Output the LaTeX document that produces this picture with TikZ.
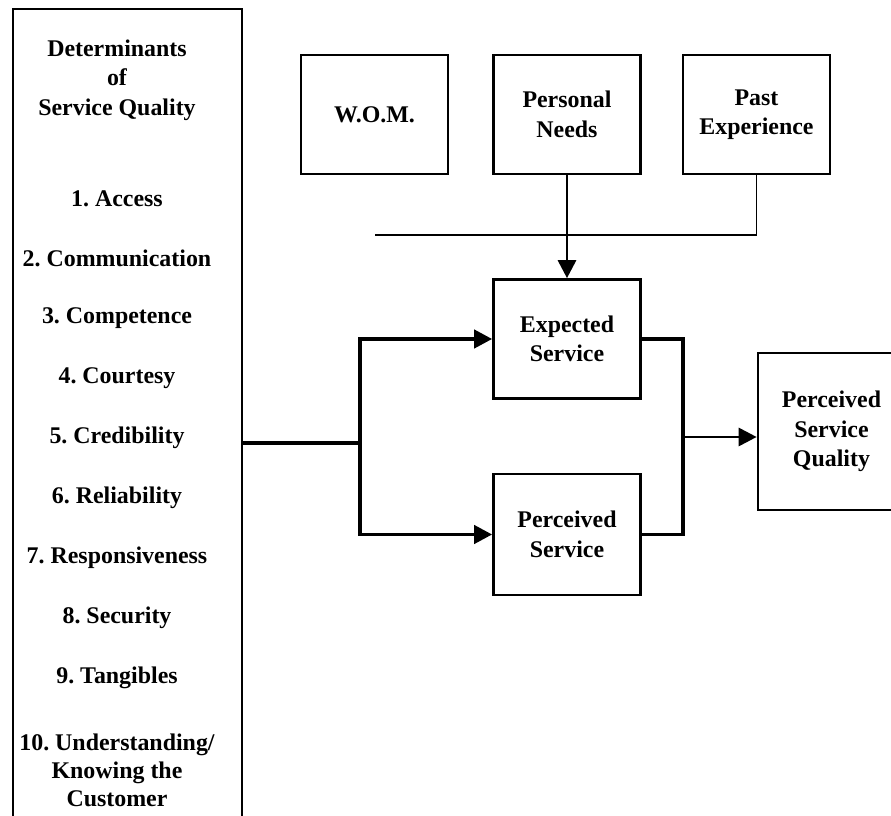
\documentclass[tikz,border=0pt]{standalone}
\usepackage{fontspec}
\setmainfont{Liberation Serif}
\usetikzlibrary{arrows.meta, calc}

\begin{document}
\begin{tikzpicture}[>={Triangle[length=4.5mm, width=4.6mm]}, line width=1.4pt,
    texto/.style={font=\bfseries\fontsize{17}{21}\selectfont, align=center},
    caja/.style={texto, draw, line width=2pt, minimum width=3.675cm, minimum height=2.975cm, inner sep=0pt},
    grueso/.style={line width=2.3pt}]
  \useasboundingbox (0,0) rectangle (22.275,20.4);
  \clip (0,0) rectangle (22.275,20.4);
  % columna de determinantes
  \draw[line width=1.6pt] (0.325,-1)--(0.325,20.175)--(6.05,20.175)--(6.05,-1);
  \node[texto] (tit) at (2.925,18.4) {Determinants\\of\\Service Quality};
  \foreach \n/\t [count=\i from 0] in {1/Access, 2/Communication, 3/Competence,
      4/Courtesy, 5/Credibility, 6/Reliability, 7/Responsiveness, 8/Security, 9/Tangibles}
    \node[texto] (d\n) at (2.925,15.425-1.495*\i) {\n.\ \t};
  \node[texto, font=\bfseries\fontsize{17}{20}\selectfont] (d10) at (2.925,1.15) {10.\ Understanding/\\Knowing the\\Customer};
  % cajas superiores
  \node[caja] (wom) at (9.3625,17.5375) {W.O.M.};
  \node[caja] (needs) at (14.175,17.5375) {Personal\\Needs};
  \node[caja] (past) at (18.9125,17.5375) {Past\\Experience};
  % servicio esperado y percibido
  \node[caja] (exp) at (14.175,11.925) {Expected\\Service};
  \node[caja, minimum height=3.025cm] (perc) at (14.175,7.0375) {Perceived\\Service};
  \node[caja, minimum height=3.925cm] (psq) at (20.7875,9.6125) {Perceived\\Service\\Quality};
  % linea horizontal superior
  \coordinate (bus) at (9.375,14.525);
  \draw (past.south)--(past.south |- bus);
  \draw[line width=2pt] (bus)--(past.south |- bus);
  \draw[->] (needs.south)--(exp.north);
  % ramas izquierda y derecha
  \coordinate (det) at (6.05,9.325);
  \coordinate (j1) at (9.0,9.325);
  \coordinate (j2) at (17.075,9.475);
  \draw[grueso] (det)--(j1);
  \draw[->, grueso] (j1) |- (exp.west);
  \draw[->, grueso] (j1) |- (perc.west);
  \draw[grueso] (exp.east) -| (j2);
  \draw[grueso] (perc.east) -| (j2);
  \draw[->] (j2)--(j2 -| psq.west);
\end{tikzpicture}
\end{document}
